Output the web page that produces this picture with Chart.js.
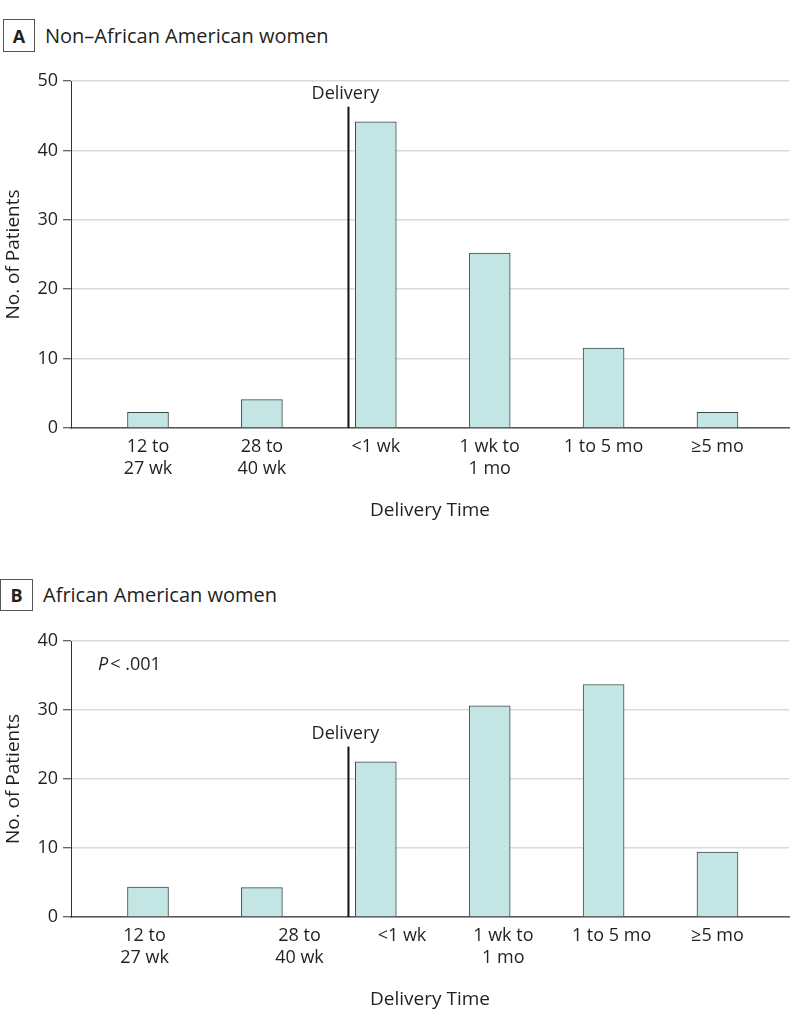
<!DOCTYPE html>
<html>
<head>
<meta charset="utf-8">
<script src="https://cdn.jsdelivr.net/npm/chart.js@4/dist/chart.umd.min.js"></script>
<style>
  body { margin: 0; background: #fff; font-family: "Open Sans", sans-serif; color: #231f20; }
  #page { position: relative; width: 798px; height: 1029px; overflow: hidden; }
  .tag { position: absolute; border: 1px solid #555; font-weight: bold; font-size: 18px;
         display: flex; align-items: center; justify-content: center; box-sizing: border-box; }
  .head { position: absolute; font-size: 20px; line-height: 24px; white-space: nowrap; }
  canvas { position: absolute; left: 0; }
</style>
</head>
<body>
<div id="page">
  <div class="tag" style="left:3px;top:19px;width:32px;height:33px;">A</div>
  <div class="head" style="left:45px;top:24px;">Non–African American women</div>
  <div class="tag" style="left:0px;top:579px;width:33px;height:32px;">B</div>
  <div class="head" style="left:43px;top:583px;">African American women</div>
  <canvas id="chartA" width="798" height="470" style="top:60px;"></canvas>
  <canvas id="chartB" width="798" height="399" style="top:620px;"></canvas>
</div>
<script>
// data
const categories = [["12 to", "27 wk"], ["28 to", "40 wk"], "<1 wk", ["1 wk to", "1 mo"], "1 to 5 mo", "≥5 mo"];
const nonAfricanAmerican = [2.25, 4.1, 44.1, 25.2, 11.5, 2.25];
const africanAmerican = [4.35, 4.25, 22.5, 30.6, 33.7, 9.4];
const yTicksA = [0, 10, 20, 30, 40, 50];
const yTicksB = [0, 10, 20, 30, 40];
// where the category labels sit (panel B labels are offset in the original)
const labelPosA = [0, 1, 2, 3, 4, 5];
const labelPosB = [-0.03, 1.33, 2.23, 3.12, 4.07, 5.0];
// the "Delivery" marker
const deliveryAt = 1.76;
const deliveryTopA = 46.3;
const deliveryTopB = 24.7;

const FONT = "'Open Sans', sans-serif";
const TEXT = "#231f20";

const deliveryMarker = {
  id: "deliveryMarker",
  afterDatasetsDraw(chart, args, opts) {
    const { ctx, scales: { x, y } } = chart;
    const px = x.getPixelForValue(deliveryAt);
    const top = y.getPixelForValue(opts.top);
    ctx.save();
    ctx.strokeStyle = "#111";
    ctx.lineWidth = 2;
    ctx.beginPath();
    ctx.moveTo(px, y.getPixelForValue(0));
    ctx.lineTo(px, top);
    ctx.stroke();
    ctx.fillStyle = TEXT;
    ctx.font = "18px " + FONT;
    ctx.textAlign = "center";
    ctx.textBaseline = "bottom";
    ctx.fillText("Delivery", px - 3, top - 4);
    if (opts.pValue) {
      const left = chart.chartArea.left + 27;
      const cy = chart.chartArea.top + 24;
      ctx.textAlign = "left";
      ctx.textBaseline = "middle";
      ctx.font = "italic 18px " + FONT;
      ctx.fillText("P", left, cy);
      const w = ctx.measureText("P").width;
      ctx.font = "18px " + FONT;
      ctx.fillText("< .001", left + w + 2, cy);
    }
    ctx.restore();
  }
};

function makeChart(id, values, yTicks, labelPos, deliveryTop, pValue) {
  const ctx = document.getElementById(id).getContext("2d");
  return new Chart(ctx, {
    type: "bar",
    data: {
      datasets: [{
        data: values.map((v, i) => ({ x: i, y: v })),
        backgroundColor: "#c3e6e4",
        borderColor: "#3c4848",
        borderWidth: 1,
        barThickness: 41
      }]
    },
    plugins: [deliveryMarker],
    options: {
      responsive: false,
      animation: false,
      events: [],
      layout: { padding: { top: 21, right: 9, left: 0, bottom: 0 } },
      plugins: {
        legend: { display: false },
        tooltip: { enabled: false },
        deliveryMarker: { top: deliveryTop, pValue: pValue }
      },
      scales: {
        x: {
          type: "linear",
          offset: false,
          min: -0.676,
          max: 5.628,
          afterBuildTicks: (s) => { s.ticks = labelPos.map((v) => ({ value: v })); },
          afterFit: (s) => { s.height = 102; },
          grid: { display: false, drawTicks: false },
          border: { display: true, color: "#555", width: 1.5 },
          ticks: {
            autoSkip: false,
            maxRotation: 0,
            padding: 8,
            color: TEXT,
            font: { family: FONT, size: 18, lineHeight: 1.2 },
            callback: (v, i) => categories[i]
          },
          title: {
            display: true,
            text: "Delivery Time",
            color: TEXT,
            font: { family: FONT, size: 19, lineHeight: 1.2 },
            padding: { top: 0, bottom: 8 }
          }
        },
        y: {
          min: 0,
          max: yTicks[yTicks.length - 1],
          afterBuildTicks: (s) => { s.ticks = yTicks.map((v) => ({ value: v })); },
          afterFit: (s) => { s.width = 71; },
          grid: { color: "#d9d9d9", lineWidth: 1.5, tickColor: "#333", tickLength: 8, tickWidth: 1 },
          border: { display: true, color: "#333", width: 1 },
          ticks: {
            padding: 5,
            color: TEXT,
            font: { family: FONT, size: 18 }
          },
          title: {
            display: true,
            text: "No. of Patients",
            color: TEXT,
            font: { family: FONT, size: 19, lineHeight: 1.2 },
            padding: { top: 2, bottom: 0 }
          }
        }
      }
    }
  });
}

makeChart("chartA", nonAfricanAmerican, yTicksA, labelPosA, deliveryTopA, false);
makeChart("chartB", africanAmerican, yTicksB, labelPosB, deliveryTopB, true);
</script>
</body>
</html>
